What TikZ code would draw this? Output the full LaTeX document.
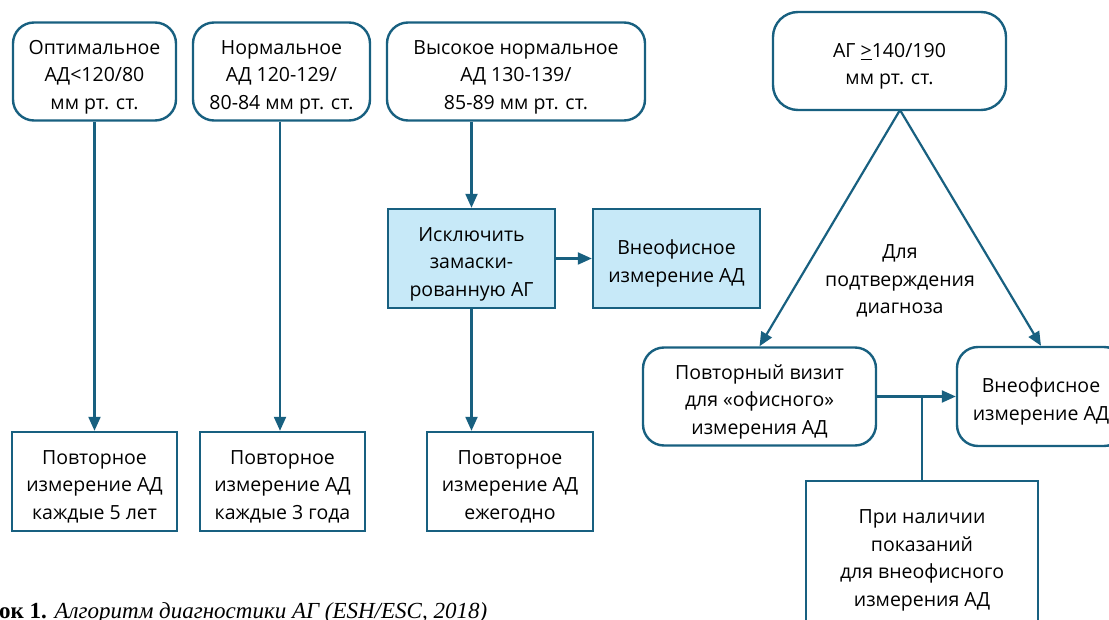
\documentclass[tikz,border=0pt]{standalone}
\usepackage{fontspec}
\setmainfont{Open Sans}
\newfontfamily\capfont{Liberation Serif}
\usetikzlibrary{arrows.meta}
\definecolor{stroke}{RGB}{24,96,128}
\definecolor{lightfill}{RGB}{199,233,248}
\newcommand{\ml}[1]{\raisebox{-4.6pt}[\height][\depth]{\begin{tabular}{@{}c@{}}#1\end{tabular}}}
\begin{document}
\begin{tikzpicture}[x=1pt,y=-1pt,
  base/.style={draw=stroke, line width=2.4pt, align=center, inner sep=0pt,
    font=\fontsize{19.5}{27.5}\selectfont, text=black},
  rbox/.style={base, rectangle, rounded corners=21pt},
  sbox/.style={base, rectangle},
  fbox/.style={base, rectangle, fill=lightfill},
  conn/.style={draw=stroke, line width=2.2pt, -{Triangle[length=14pt,width=12pt]}},
  plain/.style={draw=stroke, line width=2.2pt},
  lbl/.style={align=center, inner sep=0pt, font=\fontsize{19.5}{27.5}\selectfont}
]
\useasboundingbox (0,0) rectangle (1109,620);
\clip (0,0) rectangle (1109,620);
% top row
\node[rbox, minimum width=163pt, minimum height=98pt] (b1) at (94.5,71.5) {\ml{Оптимальное\\АД<120/80\\мм рт. ст.}};
\node[rbox, minimum width=177pt, minimum height=98pt] (b2) at (281.5,71.5) {\ml{Нормальное\\АД 120-129/\\80-84 мм рт. ст.}};
\node[rbox, minimum width=258pt, minimum height=98pt] (b3) at (516,71.5) {\ml{Высокое нормальное\\АД 130-139/\\85-89 мм рт. ст.}};
\node[rbox, rounded corners=25pt, minimum width=233pt, minimum height=98pt] (ag) at (889.5,61) {\ml{АГ \underline{>}140/190\\мм рт. ст.}};
% middle
\node[fbox, minimum width=167pt, minimum height=99pt] (isk) at (471.5,258.5) {\ml{Исключить\\замаски-\\рованную АГ}};
\node[fbox, minimum width=167pt, minimum height=99pt] (vo) at (676.5,258.5) {\ml{Внеофисное\\измерение АД}};
\node[rbox, minimum width=233pt, minimum height=98pt] (povt) at (759.5,396.5) {\ml{Повторный визит\\для «офисного»\\измерения АД}};
\node[rbox, minimum width=168pt, minimum height=99pt] (vnr) at (1041,396.5) {\ml{Внеофисное\\измерение АД}};
% bottom row
\node[sbox, minimum width=165pt, minimum height=99pt] (r1) at (94.5,481.5) {\ml{Повторное\\измерение АД\\каждые 5 лет}};
\node[sbox, minimum width=165pt, minimum height=99pt] (r2) at (282.5,481.5) {\ml{Повторное\\измерение АД\\каждые 3 года}};
\node[sbox, minimum width=166pt, minimum height=99pt] (r3) at (510,481.5) {\ml{Повторное\\измерение АД\\ежегодно}};
\node[sbox, minimum width=232pt, minimum height=148pt] (pri) at (922,555) {\ml{При наличии\\показаний\\для внеофисного\\измерения АД}};
% label
\node[lbl] (dl) at (900,276) {\ml{Для\\подтверждения\\диагноза}};
% caption
\node[anchor=base west, inner sep=0pt, font=\capfont\fontsize{23}{27}\selectfont] (cap) at (-1,618) {\textbf{ок 1.} \textit{Алгоритм диагностики АГ (ESH/ESC, 2018)}};
% connectors
\draw[conn] (b1.south) -- (b1.south |- r1.north);
\draw[conn] (b2.south -| 280,0) -- (280,0 |- r2.north);
\draw[conn] (b3.south -| isk.north) -- (isk.north);
\draw[conn] (isk.south) -- (isk.south |- r3.north);
\draw[conn] (isk.east) -- (vo.west);
\coordinate (apex) at (900,110);
\draw[conn] (apex) -- (povt.north);
\draw[conn] (apex) -- (vnr.north);
\draw[conn] (povt.east) -- (vnr.west);
\draw[plain] (povt.east -| pri.north) -- (pri.north);
\end{tikzpicture}
\end{document}
